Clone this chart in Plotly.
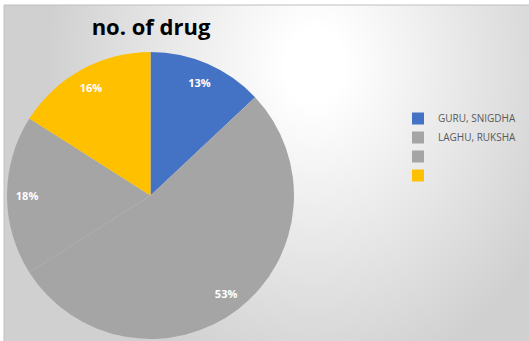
import base64, struct, zlib
import numpy as np
import plotly.graph_objects as go

labels = ["GURU, SNIGDHA", "LAGHU, RUKSHA", " ", "  "]
values = [13, 53, 18, 16]
colors = ["#4472C4", "#A5A5A5", "#A5A5A5", "#FFC000"]
title_text = "no. of drug"

W, H = 529, 341
cx, cy, r = 150.5, 195.5, 143.5


def png_data_uri(arr):
    h, w, _ = arr.shape
    raw = b"".join(b"\x00" + arr[i].tobytes() for i in range(h))

    def chunk(t, d):
        c = struct.pack(">I", len(d)) + t + d
        return c + struct.pack(">I", zlib.crc32(t + d) & 0xFFFFFFFF)

    png = b"\x89PNG\r\n\x1a\n" + chunk(b"IHDR", struct.pack(">IIBBBBB", w, h, 8, 2, 0, 0, 0)) \
        + chunk(b"IDAT", zlib.compress(raw, 9)) + chunk(b"IEND", b"")
    return "data:image/png;base64," + base64.b64encode(png).decode()


# radial background gradient (style only)
bw, bh = 525, 336
yy, xx = np.mgrid[0:bh, 0:bw]
d = np.sqrt(((xx - 310) / 270.0) ** 2 + ((yy - 60) / 330.0) ** 2)
t = np.clip((d - 0.12) / 0.88, 0, 1)
v = (255 - t * (255 - 208)).astype(np.uint8)
bg = np.stack([v, v, v], axis=-1)
bg_uri = png_data_uri(bg)

dom = dict(x=[(cx - r) / W, (cx + r) / W], y=[(H - cy - r) / H, (H - cy + r) / H])

fig = go.Figure()
fig.add_trace(go.Pie(
    labels=labels,
    values=values,
    sort=False,
    direction="clockwise",
    rotation=0,
    marker=dict(colors=colors, line=dict(width=0)),
    textinfo="none",
    domain=dom,
    showlegend=True,
))
# label ring: transparent pie carrying the percentage labels near the rim
fig.add_trace(go.Pie(
    labels=labels,
    values=values,
    sort=False,
    direction="clockwise",
    rotation=0,
    hole=0.72,
    marker=dict(colors=["rgba(0,0,0,0)"] * len(values), line=dict(width=0)),
    texttemplate="%{percent:.0%}",
    textposition="inside",
    insidetextorientation="horizontal",
    textfont=dict(family="Open Sans", size=11, color="white", weight="bold"),
    domain=dom,
    showlegend=False,
    hoverinfo="skip",
))

fig.update_layout(
    width=W, height=H,
    margin=dict(l=0, r=0, t=0, b=0),
    paper_bgcolor="white",
    title=dict(text="<b>" + title_text + "</b>", x=151 / W, xanchor="center", y=1 - 27 / H, yanchor="middle",
               font=dict(family="Open Sans", size=22, color="black")),
    legend=dict(x=398 / W, y=1 - 104 / H, xanchor="left", yanchor="top",
                font=dict(family="Open Sans", size=10, color="#595959"),
                bgcolor="rgba(0,0,0,0)", tracegroupgap=0),
    images=[dict(source=bg_uri, xref="paper", yref="paper", x=4 / W, y=1 - 5 / H, sizex=1 - 4 / W,
                 sizey=1 - 5 / H, xanchor="left", yanchor="top", sizing="stretch", layer="below")],
    shapes=[dict(type="rect", xref="paper", yref="paper", x0=4 / W, x1=1.01, y0=-0.01, y1=1 - 5 / H,
                 line=dict(color="#BFBFBF", width=1), layer="above")],
)

fig.write_html("out.html", config={"displayModeBar": False},
               post_script="document.body.style.margin='0px';")
